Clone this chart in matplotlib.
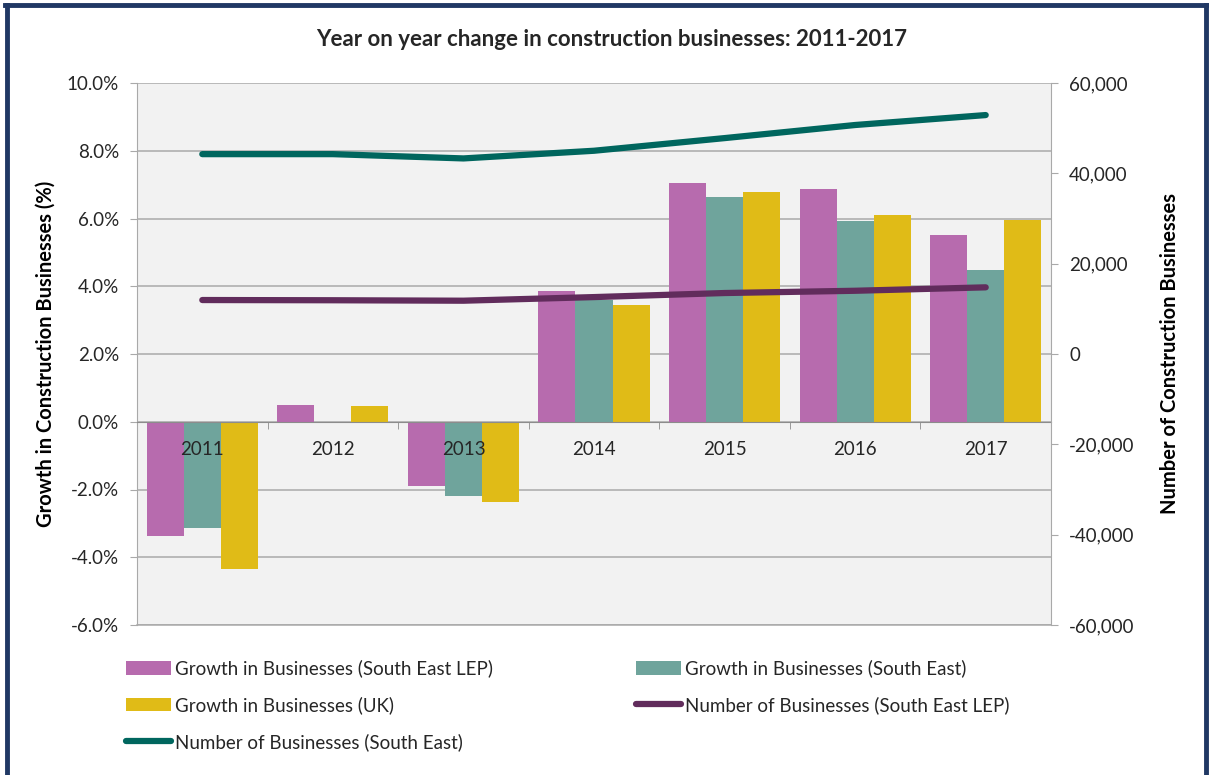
import matplotlib
matplotlib.use("Agg")
import matplotlib.pyplot as plt
from matplotlib.patches import Patch
from matplotlib.lines import Line2D
from matplotlib.ticker import FuncFormatter, MultipleLocator, FixedLocator
import matplotlib.transforms as mtransforms
import numpy as np

years = ["2011", "2012", "2013", "2014", "2015", "2016", "2017"]
growth_lep = [-3.38, 0.50, -1.89, 3.87, 7.06, 6.88, 5.51]
growth_se = [-3.14, 0.0, -2.19, 3.60, 6.64, 5.93, 4.48]
growth_uk = [-4.34, 0.47, -2.38, 3.45, 6.78, 6.11, 5.96]
number_lep = [11950, 11900, 11800, 12600, 13500, 14000, 14760]
number_se = [44250, 44250, 43300, 45000, 47800, 50700, 52900]

labels = ["Growth in Businesses (South East LEP)",
          "Growth in Businesses (South East)",
          "Growth in Businesses (UK)",
          "Number of Businesses (South East LEP)",
          "Number of Businesses (South East)"]

c_lep = "#B76BAE"
c_se = "#6FA49C"
c_uk = "#E0BB17"
c_lep_line = "#612C5C"
c_se_line = "#00665E"
grid_c = "#A9A9A9"
txt_c = "#262626"

plt.rcParams['font.family'] = ['Lato', 'DejaVu Sans']

fig = plt.figure(figsize=(12.1, 7.75), dpi=100)
fig.patch.set_facecolor("white")
ax = fig.add_axes([137/1210, 1-625/775, (1051-137)/1210, (625-83)/775])
ax.set_facecolor("#F2F2F2")

x = np.arange(len(years))
w = 0.284
ax.bar(x - w, growth_lep, w, color=c_lep, zorder=3)
ax.bar(x, growth_se, w, color=c_se, zorder=3)
ax.bar(x + w, growth_uk, w, color=c_uk, zorder=3)

ax.set_xlim(-0.5, len(years) - 0.5)
ax.set_ylim(-6, 10)
ax.yaxis.set_major_locator(MultipleLocator(2))
ax.yaxis.set_major_formatter(FuncFormatter(lambda v, p: f"{v:.1f}%"))
ax.grid(axis="y", color=grid_c, linewidth=1.1, zorder=0)
ax.set_axisbelow(True)

for s in ["top", "right"]:
    ax.spines[s].set_visible(False)
ax.spines["left"].set_color(grid_c)
ax.spines["bottom"].set_position(("data", 0))
ax.spines["bottom"].set_color("#8C8C8C")
ax.spines["bottom"].set_zorder(4)
# frame line along the bottom edge of the plot area
ax.add_line(Line2D([0, 1], [0, 0], transform=ax.transAxes, color=grid_c,
                   linewidth=1.1, clip_on=False, zorder=1))

ax.xaxis.set_major_locator(FixedLocator(x))
ax.set_xticklabels([])
ax.xaxis.set_minor_locator(FixedLocator(np.arange(len(years) + 1) - 0.5))
ax.tick_params(axis="x", which="major", length=0)
ax.tick_params(axis="x", which="minor", length=5, color="#8C8C8C", direction="out")
ax.tick_params(axis="y", length=5, color=grid_c, labelsize=13.5, labelcolor=txt_c, pad=8)

# category labels drawn above the bars (as in the reference)
trans = mtransforms.blended_transform_factory(ax.transData, ax.transData)
off = mtransforms.offset_copy(trans, fig=fig, x=0, y=-28, units="dots")
for xi, yr in zip(x, years):
    ax.text(xi, 0, yr, transform=off, ha="center", va="center", fontsize=13.5,
            color=txt_c, zorder=10)

ax.set_ylabel("Growth in Construction Businesses (%)", fontsize=14.5, fontweight="bold",
              color="black", labelpad=8)

ax2 = ax.twinx()
ax2.set_facecolor("none")
ax2.plot(x, number_se, color=c_se_line, linewidth=4.5, solid_capstyle="round", zorder=5)
ax2.plot(x, number_lep, color=c_lep_line, linewidth=4.5, solid_capstyle="round", zorder=5)
ax2.set_ylim(-60000, 60000)
ax2.yaxis.set_major_locator(MultipleLocator(20000))
ax2.yaxis.set_major_formatter(FuncFormatter(lambda v, p: f"{int(v):,}"))
for s in ["top", "left", "bottom"]:
    ax2.spines[s].set_visible(False)
ax2.spines["right"].set_color(grid_c)
ax2.tick_params(axis="y", length=5, color=grid_c, labelsize=13.5, labelcolor=txt_c, pad=8)
ax2.set_ylabel("Number of Construction Businesses", fontsize=14.5, fontweight="bold",
               color="black", labelpad=18)

fig.text(612/1210, 1-40/775, "Year on year change in construction businesses: 2011-2017",
         ha="center", va="center", fontsize=16, fontweight="bold", color=txt_c)

handles = [Patch(facecolor=c_lep), Patch(facecolor=c_uk),
           Line2D([], [], color=c_se_line, linewidth=4.5, solid_capstyle="round"),
           Patch(facecolor=c_se),
           Line2D([], [], color=c_lep_line, linewidth=4.5, solid_capstyle="round")]
hl = [labels[0], labels[2], labels[4], labels[1], labels[3]]
leg = fig.legend(handles, hl, ncol=2, loc="upper left",
                 bbox_to_anchor=(118/1210, 1-652/775), frameon=False,
                 fontsize=13.5, handlelength=2.4, handleheight=0.75, handletextpad=0.25,
                 columnspacing=7.6, labelspacing=1.0, borderaxespad=0)
for t in leg.get_texts():
    t.set_color(txt_c)

# outer frame
navy = "#203864"
fig.add_artist(Line2D([7/1210, 7/1210], [0, 1-5/775], transform=fig.transFigure, color=navy, linewidth=3.5))
fig.add_artist(Line2D([5/1210, 1206/1210], [1-5/775, 1-5/775], transform=fig.transFigure, color=navy, linewidth=3.5))
fig.add_artist(Line2D([1206/1210, 1206/1210], [0, 1-5/775], transform=fig.transFigure, color=navy, linewidth=3.5))

fig.savefig("out.png", dpi=100)
